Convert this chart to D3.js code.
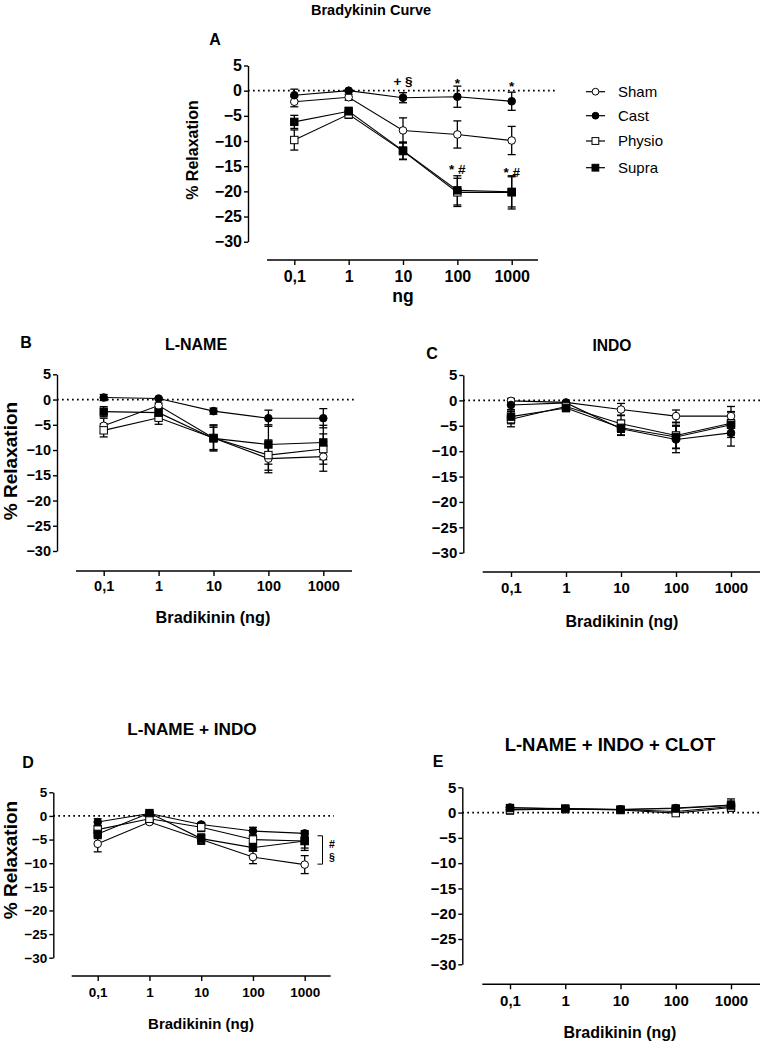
<!DOCTYPE html>
<html><head><meta charset="utf-8">
<script src="https://cdn.jsdelivr.net/npm/d3@7"></script>
<style>
html,body{margin:0;padding:0;background:#fff;}
svg text{font-family:"Liberation Sans",Arial,sans-serif;}
</style>
</head><body>
<svg id="chart" width="762" height="1044"></svg>
<script>
// ---------- DATA ----------
const categories = ["0,1","1","10","100","1000"];
const seriesNames = ["Sham","Cast","Physio","Supra"];
const yTicks = [5,0,-5,-10,-15,-20,-25,-30];

// Panel A – Bradykinin Curve
const shamA = [-2.2,-1.3,-7.9,-8.7,-9.9];
const shamA_sem = [1.0,0.6,2.5,2.7,2.8];
const castA = [-0.9,0.0,-1.4,-1.2,-2.1];
const castA_sem = [1.2,0.2,1.0,2.1,1.8];
const physioA = [-9.8,-4.7,-12.0,-20.2,-20.2];
const physioA_sem = [2.0,0.8,1.7,2.8,3.3];
const supraA = [-6.2,-4.1,-11.9,-19.8,-20.1];
const supraA_sem = [1.3,0.8,1.7,2.9,3.0];

// Panel B – L-NAME
const shamB = [-5.2,-1.2,-7.6,-11.7,-11.3];
const shamB_sem = [1.5,0.5,2.6,2.8,2.9];
const castB = [0.4,0.2,-2.3,-3.7,-3.7];
const castB_sem = [0.6,0.2,0.6,1.6,1.9];
const physioB = [-6.1,-3.6,-7.6,-11.0,-9.8];
const physioB_sem = [1.3,1.3,2.4,3.0,3.0];
const supraB = [-2.4,-2.6,-7.7,-8.9,-8.5];
const supraB_sem = [1.0,0.8,2.2,3.9,3.4];

// Panel C – INDO
const shamC = [-0.1,-0.4,-1.8,-3.1,-3.1];
const shamC_sem = [0.5,0.3,1.2,1.2,1.9];
const castC = [-0.9,-0.5,-5.6,-7.7,-6.4];
const castC_sem = [1.0,0.4,1.2,2.6,2.6];
const physioC = [-3.7,-1.2,-4.6,-6.9,-4.5];
const physioC_sem = [1.5,0.8,1.7,2.5,2.3];
const supraC = [-3.2,-1.5,-5.4,-7.2,-4.8];
const supraC_sem = [1.4,0.7,1.5,2.3,2.5];

// Panel D – L-NAME + INDO
const shamD = [-5.9,-1.3,-5.0,-8.7,-10.3];
const shamD_sem = [1.7,0.3,1.0,1.4,1.9];
const castD = [-1.3,0.5,-1.8,-3.2,-3.7];
const castD_sem = [0.7,0.3,0.4,0.8,0.6];
const physioD = [-2.9,-0.6,-2.4,-5.0,-5.3];
const physioD_sem = [0.8,0.4,0.9,0.8,2.0];
const supraD = [-3.8,0.6,-4.8,-6.7,-5.3];
const supraD_sem = [1.0,0.3,1.0,0.7,1.5];

// Panel E – L-NAME + INDO + CLOT
const shamE = [0.6,0.7,0.6,0.2,1.2];
const shamE_sem = [0.6,0.2,0.2,0.3,0.8];
const castE = [1.0,0.7,0.6,0.9,1.5];
const castE_sem = [0.5,0.2,0.2,0.3,1.2];
const physioE = [0.5,0.7,0.5,-0.1,1.0];
const physioE_sem = [0.8,0.2,0.2,0.3,0.7];
const supraE = [0.9,0.8,0.6,0.8,1.4];
const supraE_sem = [0.6,0.2,0.2,0.4,0.9];

// Significance annotations (category, value at text baseline, text)
const annotationsA = [
  {cat:"10", value:0.9, text:"+ §"},
  {cat:"100", value:0.6, text:"*"},
  {cat:"1000", value:-0.1, text:"*"},
  {cat:"100", value:-16.6, text:"* #"},
  {cat:"1000", value:-17.1, text:"* #"}
];
const bracketD = [-4.2, -10.2];
const bracketDLabels = ["#","§"];

// ---------- DRAWING ----------
const svg = d3.select("#chart");
const markerStyle = {
  Sham:{shape:"circle", fill:"#fff"},
  Cast:{shape:"circle", fill:"#000"},
  Physio:{shape:"square", fill:"#fff"},
  Supra:{shape:"square", fill:"#000"}
};

function drawPanel(p){
  const g = svg.append("g");
  const x = d3.scalePoint().domain(categories).range([p.cx0, p.cx1]);
  const y = d3.scaleLinear().domain([5,-30]).range([p.y5, p.y30]);

  // y axis
  const ya = g.append("g").attr("transform",`translate(${p.ax},0)`)
    .call(d3.axisLeft(y).tickValues(yTicks).tickSize(4).tickPadding(2).tickSizeOuter(0));
  ya.select(".domain").attr("stroke","#000").attr("stroke-width",1.4);
  ya.selectAll(".tick line").attr("stroke-width",1.4);
  ya.selectAll(".tick text").attr("font-size",p.fs).attr("font-weight","bold").attr("fill","#000");

  // x axis
  const xa = g.append("g").attr("transform",`translate(0,${p.xay})`)
    .call(d3.axisBottom(x).tickSize(5).tickPadding(p.xpad).tickSizeOuter(0));
  xa.select(".domain").remove();
  xa.append("line").attr("x1",p.xa0).attr("x2",p.xa1).attr("y1",0).attr("y2",0)
    .attr("stroke","#000").attr("stroke-width",1.4);
  xa.selectAll(".tick line").attr("stroke-width",1.4);
  xa.selectAll(".tick text").attr("font-size",p.fs).attr("font-weight","bold").attr("fill","#000");

  // zero dotted line
  g.append("line").attr("x1",p.ax).attr("x2",p.zx).attr("y1",y(0)).attr("y2",y(0))
    .attr("stroke","#000").attr("stroke-width",1.7).attr("stroke-dasharray","1.7,3.3");

  const line = d3.line().x((d,i)=>x(categories[i])).y(d=>y(d));
  p.series.forEach(s=>{
    g.append("path").attr("d",line(s.values)).attr("fill","none")
      .attr("stroke","#000").attr("stroke-width",1.1);
  });
  // error bars
  p.series.forEach(s=>{
    s.values.forEach((v,i)=>{
      const cx = x(categories[i]), e = s.sem[i];
      const eg = g.append("g").attr("stroke","#000").attr("stroke-width",1.3);
      eg.append("line").attr("x1",cx).attr("x2",cx).attr("y1",y(v+e)).attr("y2",y(v-e));
      eg.append("line").attr("x1",cx-4).attr("x2",cx+4).attr("y1",y(v+e)).attr("y2",y(v+e));
      eg.append("line").attr("x1",cx-4).attr("x2",cx+4).attr("y1",y(v-e)).attr("y2",y(v-e));
    });
  });
  // markers
  p.series.forEach(s=>{
    const st = markerStyle[s.name];
    s.values.forEach((v,i)=>{
      const cx = x(categories[i]), cy = y(v);
      if(st.shape==="circle"){
        g.append("circle").attr("cx",cx).attr("cy",cy).attr("r",3.8)
          .attr("fill",st.fill).attr("stroke","#000").attr("stroke-width",1);
      } else {
        g.append("rect").attr("x",cx-3.7).attr("y",cy-3.7).attr("width",7.4).attr("height",7.4)
          .attr("fill",st.fill).attr("stroke","#000").attr("stroke-width",1);
      }
    });
  });

  // labels
  g.append("text").attr("x",p.title[0]).attr("y",p.title[1]).attr("text-anchor","middle")
    .attr("font-size",p.titleFs).attr("font-weight","bold").text(p.titleText);
  g.append("text").attr("x",p.letter[0]).attr("y",p.letter[1]).attr("text-anchor","middle")
    .attr("font-size",16).attr("font-weight","bold").text(p.letterText);
  g.append("text").attr("x",p.xlab[0]).attr("y",p.xlab[1]).attr("text-anchor","middle")
    .attr("font-size",p.xlabFs).attr("font-weight","bold").text(p.xlabText);
  if(p.ylab){
    g.append("text").attr("transform",`translate(${p.ylab[0]},${p.ylab[1]}) rotate(-90)`)
      .attr("text-anchor","middle").attr("font-size",p.ylabFs).attr("font-weight","bold").text("% Relaxation");
  }
  return {g,x,y};
}

function mk(names, vals, sems){ return names.map((n,i)=>({name:n, values:vals[i], sem:sems[i]})); }

// Panel A
const A = drawPanel({ax:248,y5:65.5,y30:241.7,xay:260,xa0:267,xa1:538,cx0:294.3,cx1:511.7,zx:558,fs:16,xpad:6,
  series:mk(seriesNames,[shamA,castA,physioA,supraA],[shamA_sem,castA_sem,physioA_sem,supraA_sem]),
  title:[371,15],titleText:"Bradykinin Curve",titleFs:14.5,letter:[215,45],letterText:"A",
  xlab:[403,302],xlabText:"ng",xlabFs:17.5,ylab:[197.5,150],ylabFs:16});
annotationsA.forEach(a=>{
  A.g.append("text").attr("x",A.x(a.cat)).attr("y",A.y(a.value)).attr("text-anchor","middle")
    .attr("font-size",13.5).attr("font-weight","bold").text(a.text);
});

// Legend
const legend = svg.append("g");
seriesNames.forEach((n,i)=>{
  const ly = [91.7,115.7,141,167.7][i];
  legend.append("line").attr("x1",586).attr("x2",605).attr("y1",ly).attr("y2",ly).attr("stroke","#000").attr("stroke-width",1.2);
  const st = markerStyle[n];
  if(st.shape==="circle") legend.append("circle").attr("cx",595.5).attr("cy",ly).attr("r",3.4).attr("fill",st.fill).attr("stroke","#000");
  else legend.append("rect").attr("x",592).attr("y",ly-3.4).attr("width",6.8).attr("height",6.8).attr("fill",st.fill).attr("stroke","#000");
  legend.append("text").attr("x",618).attr("y",ly+5.4).attr("font-size",15).text(n);
});

// Panel B
drawPanel({ax:57,y5:374.3,y30:551,xay:571,xa0:76,xa1:352,cx0:103.7,cx1:323.3,zx:356,fs:14.5,xpad:5,
  series:mk(seriesNames,[shamB,castB,physioB,supraB],[shamB_sem,castB_sem,physioB_sem,supraB_sem]),
  title:[196,350],titleText:"L-NAME",titleFs:16,letter:[26,347.5],letterText:"B",
  xlab:[213,623],xlabText:"Bradikinin (ng)",xlabFs:16.3,ylab:[17,461],ylabFs:19});

// Panel C
drawPanel({ax:463.3,y5:375,y30:552.7,xay:572,xa0:482.7,xa1:760,cx0:511,cx1:731,zx:762,fs:15,xpad:5,
  series:mk(seriesNames,[shamC,castC,physioC,supraC],[shamC_sem,castC_sem,physioC_sem,supraC_sem]),
  title:[612,350.6],titleText:"INDO",titleFs:15.6,letter:[432,359],letterText:"C",
  xlab:[622,626.5],xlabText:"Bradikinin (ng)",xlabFs:16,ylab:null});

// Panel D
const D = drawPanel({ax:53.3,y5:792.3,y30:957.7,xay:976,xa0:71.7,xa1:330.7,cx0:97.7,cx1:304.7,zx:334,fs:13.5,xpad:6,
  series:mk(seriesNames,[shamD,castD,physioD,supraD],[shamD_sem,castD_sem,physioD_sem,supraD_sem]),
  title:[192,735],titleText:"L-NAME + INDO",titleFs:17.2,letter:[28,767.5],letterText:"D",
  xlab:[201,1028.5],xlabText:"Bradikinin (ng)",xlabFs:15,ylab:[17,860],ylabFs:19});
{
  const bx = 322.5, y0 = D.y(bracketD[0]), y1 = D.y(bracketD[1]);
  D.g.append("path").attr("d",`M${bx-5},${y0}H${bx}V${y1}H${bx-5}`).attr("fill","none").attr("stroke","#000").attr("stroke-width",1);
  D.g.append("text").attr("x",332).attr("y",y0+12).attr("text-anchor","middle").attr("font-size",10.5).attr("font-weight","bold").text(bracketDLabels[0]);
  D.g.append("text").attr("x",332).attr("y",y0+25).attr("text-anchor","middle").attr("font-size",10.5).attr("font-weight","bold").text(bracketDLabels[1]);
}

// Panel E
drawPanel({ax:462.3,y5:787.3,y30:964.3,xay:984.3,xa0:482.3,xa1:760,cx0:510,cx1:731,zx:762,fs:15,xpad:6,
  series:mk(seriesNames,[shamE,castE,physioE,supraE],[shamE_sem,castE_sem,physioE_sem,supraE_sem]),
  title:[610,750.5],titleText:"L-NAME + INDO + CLOT",titleFs:18.5,letter:[438,767],letterText:"E",
  xlab:[620,1038],xlabText:"Bradikinin (ng)",xlabFs:16,ylab:null});
</script>
</body></html>
